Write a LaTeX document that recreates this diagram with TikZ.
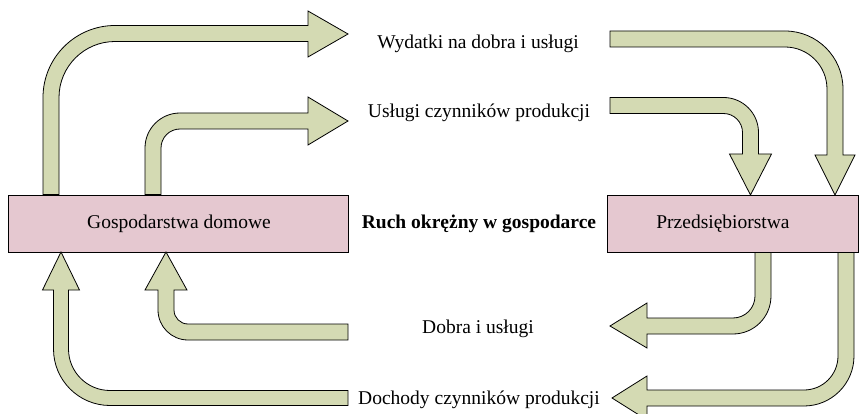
\documentclass[tikz,border=0pt]{standalone}
\usepackage{fontspec}
\setmainfont{Liberation Serif}
\definecolor{flowgreen}{RGB}{212,218,179}
\definecolor{boxpink}{RGB}{229,200,208}
\begin{document}
\begin{tikzpicture}[x=1pt,y=1pt,
  flow/.style={fill=flowgreen,draw=black,line width=0.8pt,line join=miter},
  sector/.style={draw=black,fill=boxpink,line width=0.8pt,minimum height=57pt,inner sep=0pt,outer sep=0pt},
  lbl/.style={font=\fontsize{19.5}{23}\selectfont,inner sep=0pt},
]
\useasboundingbox (0,0) rectangle (860,413);

% sectors
\node[sector,minimum width=339.5pt] (hh) at (178.25,189.5) {};
\node[sector,minimum width=251pt] (firms) at (732.5,189.5) {};
\node[lbl] (hhtext) at (179,189) {Gospodarstwa domowe};
\node[lbl] (firmstext) at (723,189) {Przedsiębiorstwa};
\node[lbl,font=\fontsize{19.5}{23}\selectfont\bfseries] (title) at (479,189.5) {Ruch okrężny w gospodarce};

% flow labels
\node[lbl] (wyd) at (478,369) {Wydatki na dobra i usługi};
\node[lbl] (usl) at (479,300.5) {Usługi czynników produkcji};
\node[lbl] (dob) at (478,84) {Dobra i usługi};
\node[lbl] (doch) at (479,13) {Dochody czynników produkcji};

% top-left outer: households -> Wydatki
\draw[flow] (43,218.5) -- (43,315.5) arc[start angle=180,end angle=90,radius=72]
  -- (308,387.5) -- (308,402) -- (348,379) -- (308,356) -- (308,371.5)
  -- (115,371.5) arc[start angle=90,end angle=180,radius=56] -- (59,218.5) -- cycle;

% top-left inner: households -> Uslugi
\draw[flow] (145,218.5) -- (145,265) arc[start angle=180,end angle=90,radius=35]
  -- (308,300) -- (308,316) -- (348,292) -- (308,268) -- (308,284)
  -- (180,284) arc[start angle=90,end angle=180,radius=19] -- (161,218.5) -- cycle;

% top-right outer: Wydatki -> firms
\draw[flow] (610,382) -- (785,382) arc[start angle=90,end angle=0,radius=58]
  -- (843,258) -- (855,258) -- (835,218) -- (815,258) -- (827,258)
  -- (827,324) arc[start angle=0,end angle=90,radius=42] -- (610,366) -- cycle;

% top-right inner: Uslugi -> firms
\draw[flow] (610,315.5) -- (723.5,315.5) arc[start angle=90,end angle=0,radius=35]
  -- (758.5,259) -- (771.5,259) -- (750.5,218) -- (729.5,259) -- (742.5,259)
  -- (742.5,280.5) arc[start angle=0,end angle=90,radius=19] -- (610,299.5) -- cycle;

% bottom-right inner: firms -> Dobra
\draw[flow] (771,160.5) -- (771,117) arc[start angle=0,end angle=-90,radius=38]
  -- (647,79) -- (647,65) -- (610,87) -- (647,110) -- (647,95)
  -- (733,95) arc[start angle=-90,end angle=0,radius=22] -- (755,160.5) -- cycle;

% bottom-right outer: firms -> Dochody
\draw[flow] (854,160.5) -- (854,57) arc[start angle=0,end angle=-90,radius=50]
  -- (647,7) -- (647,-7) -- (612,15) -- (647,37) -- (647,23)
  -- (804,23) arc[start angle=-90,end angle=0,radius=34] -- (838,160.5) -- cycle;

% bottom-left inner: Dobra -> households
\draw[flow] (348,89) -- (188,89) arc[start angle=270,end angle=180,radius=14]
  -- (174,123) -- (187,123) -- (166,161) -- (145,123) -- (158,123)
  -- (158,103) arc[start angle=180,end angle=270,radius=30] -- (348,73) -- cycle;

% bottom-left outer: Dochody -> households
\draw[flow] (348,22.5) -- (110,22.5) arc[start angle=270,end angle=180,radius=41.5]
  -- (68.5,123) -- (79.5,123) -- (61,161) -- (42.5,123) -- (53.5,123)
  -- (53.5,64) arc[start angle=180,end angle=270,radius=56.5] -- (348,7.5) -- cycle;
\end{tikzpicture}
\end{document}
